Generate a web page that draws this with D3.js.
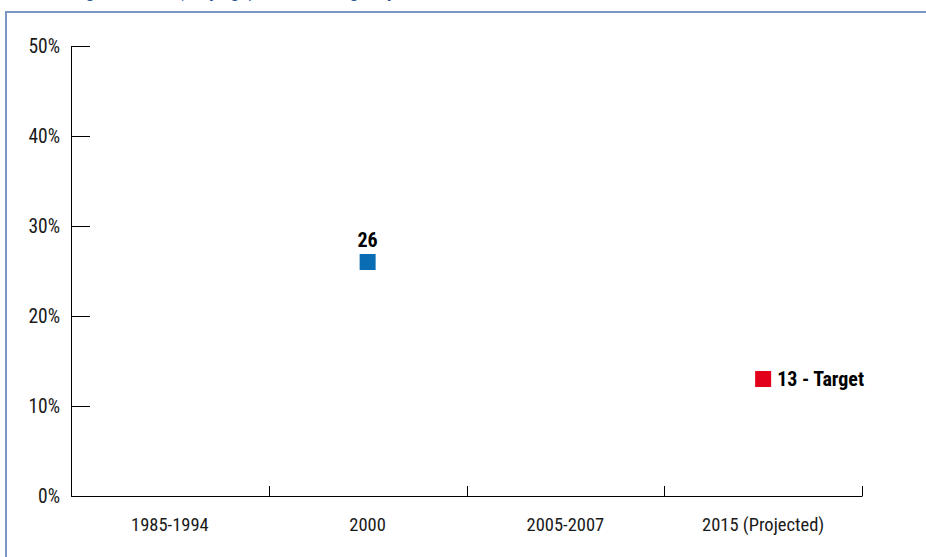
<!DOCTYPE html>
<html><head><meta charset="utf-8">
<script src="https://cdn.jsdelivr.net/npm/d3@7"></script>
<style>
body{margin:0;background:#fff;}
svg{display:block;}
text{font-family:"Roboto Condensed","Liberation Sans Narrow","Liberation Sans",sans-serif;}
</style></head>
<body>
<script>
const categories = ["1985-1994","2000","2005-2007","2015 (Projected)"];
const actualValues = [null, 26, null, null];
const targetValues = [null, null, null, 13];
const targetSuffix = " - Target";
const yTicks = [0,10,20,30,40,50];

const W=926,H=557;
const svg=d3.select("body").append("svg").attr("width",W).attr("height",H);

// title (cut off at top in reference)
svg.append("text").attr("x",18).attr("y",-3)
  .attr("fill","#1f4e9a").attr("font-size",19).attr("font-weight","bold").attr("font-style","italic")
  .text("Underweight children (% by age) and MDG target by 2015");

// frame
svg.append("line").attr("x1",5).attr("x2",W).attr("y1",12).attr("y2",12).attr("stroke","#7b97c2").attr("stroke-width",2);
svg.append("line").attr("x1",6).attr("x2",6).attr("y1",12).attr("y2",H).attr("stroke","#7b97c2").attr("stroke-width",2);

const x=d3.scaleBand().domain(categories).range([71,862]);
const y=d3.scaleLinear().domain([0,50]).range([496,46]);

// y axis
const ya=svg.append("g").attr("transform","translate(71,0)")
  .call(d3.axisRight(y).tickValues(yTicks).tickSize(19).tickFormat(d=>d+"%"));
ya.select(".domain").attr("stroke","#000").attr("d","M0.5,46V496.5");
ya.selectAll(".tick line").attr("stroke","#000");
ya.selectAll(".tick text").attr("x",-11).attr("text-anchor","end").attr("font-size",19.5)
  .attr("fill","#1a1a1a").attr("dy","0.32em");

// x axis
const xa=svg.append("g").attr("transform","translate(0,496)")
  .call(d3.axisBottom(x).tickSize(0).tickSizeOuter(0));
xa.select(".domain").attr("stroke","#000");
xa.selectAll(".tick text").attr("font-size",18.5).attr("fill","#1a1a1a").attr("dy",0).attr("y",35);
// boundary ticks
const bounds=categories.map(c=>x(c)+x.bandwidth()).map(v=>Math.round(v)+0.5);
svg.append("g").selectAll("line").data(bounds).join("line")
  .attr("x1",d=>d).attr("x2",d=>d).attr("y1",486).attr("y2",496).attr("stroke","#000");

const cx=c=>x(c)+x.bandwidth()/2;
// actual
const act=categories.map((c,i)=>({c,v:actualValues[i]})).filter(d=>d.v!=null);
svg.selectAll("rect.act").data(act).join("rect").attr("class","act")
  .attr("x",d=>cx(d.c)-8).attr("y",d=>y(d.v)-8).attr("width",16).attr("height",16).attr("fill","#0a6db3");
svg.selectAll("text.act").data(act).join("text").attr("class","act")
  .attr("x",d=>cx(d.c)).attr("y",d=>y(d.v)-15).attr("text-anchor","middle")
  .attr("font-weight","bold").attr("font-size",20).attr("fill","#000").text(d=>d.v);
// target
const tgt=categories.map((c,i)=>({c,v:targetValues[i]})).filter(d=>d.v!=null);
svg.selectAll("rect.tgt").data(tgt).join("rect").attr("class","tgt")
  .attr("x",d=>cx(d.c)-8).attr("y",d=>y(d.v)-8).attr("width",16).attr("height",16).attr("fill","#e2001a");
svg.selectAll("text.tgt").data(tgt).join("text").attr("class","tgt")
  .attr("x",d=>cx(d.c)+14).attr("y",d=>y(d.v)+7).attr("text-anchor","start")
  .attr("font-weight","bold").attr("font-size",20).attr("fill","#000").text(d=>d.v+targetSuffix);
</script>
</body></html>
